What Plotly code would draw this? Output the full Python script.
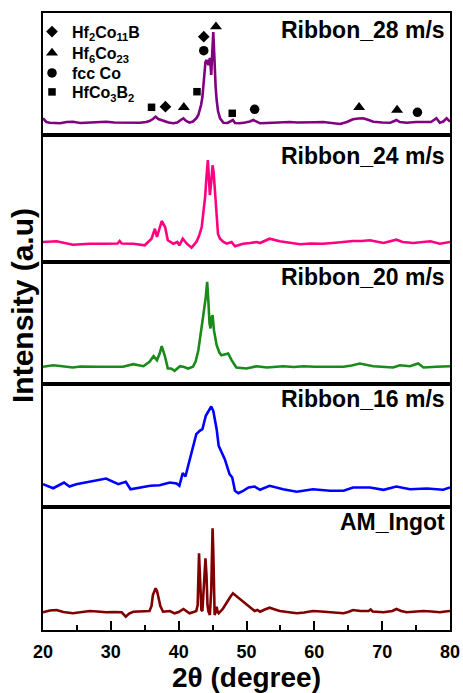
import plotly.graph_objects as go

# ---------------- data (2theta in degree, intensity in a.u.) ----------------
tt_28 = [20.0, 20.5, 21.0, 22.0, 22.5, 23.5, 24.4, 25.5, 26.9, 28.0, 29.3, 30.5, 31.8, 33.0, 34.3, 35.2,
         35.7, 36.2, 36.6, 37.0, 37.7, 38.5, 39.2, 39.8, 40.3, 40.7, 41.1, 41.6, 42.1, 42.6, 42.9, 43.1,
         43.3, 43.5, 43.65, 43.8, 43.95, 44.1, 44.25, 44.4, 44.5, 44.6, 44.7, 44.8, 44.9, 45.0, 45.1,
         45.2, 45.3, 45.45, 45.6, 45.8, 46.1, 46.6, 47.2, 47.7, 48.0, 48.3, 49.0, 49.8, 50.5, 51.0, 51.5,
         52.0, 53.0, 53.9, 55.0, 56.4, 57.5, 58.9, 60.0, 61.3, 62.5, 63.8, 64.8, 65.7, 66.5, 67.2, 68.0,
         68.7, 70.0, 71.2, 71.8, 72.1, 72.6, 73.6, 75.0, 76.1, 77.2, 78.0, 78.5, 79.0, 79.5, 80.0]
int_28 = [16.7, 13, 12.3, 12, 11.7, 13, 13.3, 12, 12.3, 12.8, 13.3, 12.5, 12.3, 12.8, 12.3, 13,
          14, 16, 18.3, 16, 14.3, 12.5, 11.7, 12.5, 15, 16.7, 14, 12.3, 13.5, 16.7, 20, 25,
          30, 38, 52, 65, 73, 75, 72, 70, 74, 77, 70, 60, 75, 95, 103,
          88, 68, 48, 35, 24, 16.7, 12.3, 12, 13.5, 15, 12, 11.7, 12.5, 13.5, 15, 13,
          11.7, 12, 12.3, 12.8, 13, 12.5, 12.3, 12.8, 13, 12, 11, 13, 15.7, 16.5, 16.7, 15,
          13.3, 12.5, 12.3, 14, 15, 13, 12.3, 13, 13.3, 13, 16.7, 12.3, 13.5, 16.7, 13.3]

tt_24 = [20.0, 22.0, 24.4, 26.9, 29.3, 31.0, 31.3, 31.6, 33.3, 35.0, 36.0, 36.5, 36.8, 37.5, 38.0,
         38.4, 39.2, 39.8, 40.1, 40.6, 41.2, 41.9, 42.6, 43.0, 43.4, 43.7, 43.9, 44.1, 44.3, 44.45,
         44.6, 44.8, 45.0, 45.15, 45.3, 45.45, 45.6, 45.8, 46.1, 46.6, 47.1, 47.8, 48.3, 49.5, 50.5,
         51.5, 52.0, 53.4, 54.9, 56.5, 57.9, 59.5, 61.3, 63.5, 65.7, 67.0, 68.2, 70.2, 72.1, 73.0,
         74.6, 77.1, 78.5, 80.0]
int_24 = [20, 20.7, 17.3, 18.3, 18.3, 18.5, 21, 18.5, 18.3, 16.7, 23.3, 33.3, 25, 41, 35,
          21.7, 18.3, 20, 16.7, 23.3, 18.3, 14.3, 20, 26, 35, 50, 65, 85, 102, 85,
          67, 80, 96.7, 90, 75, 55, 38, 28, 23.3, 20, 18.3, 20, 15.7, 18.3, 19,
          20, 19, 23.3, 20.7, 19, 17.7, 18.5, 18.3, 19.5, 21, 21, 21.7, 19, 22.3, 20,
          19, 20.7, 18.3, 20]

tt_20 = [20.0, 21.5, 22.5, 24.4, 25.5, 26.9, 28.0, 29.3, 30.5, 31.8, 33.3, 34.8, 35.7, 36.3, 36.8,
         37.2, 37.5, 38.0, 38.4, 38.9, 39.4, 40.2, 40.8, 41.4, 42.1, 42.5, 42.9, 43.3, 43.6, 44.0,
         44.2, 44.4, 44.55, 44.7, 44.85, 45.0, 45.2, 45.6, 46.0, 46.3, 46.8, 47.3, 47.8, 48.5, 50.0,
         51.5, 53.0, 55.4, 57.0, 58.4, 60.0, 61.3, 62.8, 64.3, 65.5, 66.7, 68.7, 70.0, 71.6, 72.6,
         74.1, 75.3, 76.1, 78.0, 80.0]
int_20 = [16.7, 18.3, 17.5, 16, 17, 17.3, 16.8, 16.7, 16.8, 16.7, 19.3, 17.3, 21.7, 27.3, 23.3,
          30, 37.3, 26.7, 15, 15, 12.7, 17.3, 16.5, 15, 16.7, 22, 33.3, 50, 66.7, 86.7,
          101.7, 80, 60, 55, 66, 68.3, 53.3, 38.3, 31, 28.3, 29, 30, 23.3, 16, 15,
          17.3, 16, 17.3, 16.5, 17.3, 16.8, 16.7, 17, 16.7, 18, 20, 17.3, 17, 16, 18.3,
          17.3, 20, 16, 16.7, 17.3]

tt_16 = [20.0, 21.5, 23.1, 23.9, 24.9, 26.9, 29.3, 31.1, 32.2, 32.9, 34.3, 35.8, 37.2, 38.7, 39.7,
         40.1, 40.6, 41.0, 41.4, 42.1, 42.6, 43.1, 43.5, 44.0, 44.4, 44.8, 45.1, 45.6, 45.9, 46.8,
         47.5, 47.9, 48.3, 48.8, 49.5, 50.3, 51.2, 52.0, 53.4, 55.4, 57.4, 59.8, 62.3, 64.3, 65.7,
         68.2, 70.2, 72.1, 74.1, 76.6, 79.0, 80.0]
int_16 = [22.3, 18.3, 24, 20, 22.3, 24.7, 28, 22.3, 24.7, 17.3, 19, 20.7, 21.3, 24, 23,
          20.7, 33.3, 30, 40.7, 60.7, 72.3, 75.7, 77.3, 90.7, 95.7, 100, 95.7, 77.3, 60.7, 47.3,
          32.3, 29, 15.7, 13.3, 15.7, 19, 20, 16.7, 20.7, 17.3, 14.7, 17.3, 15.7, 15.7, 19,
          19, 16.7, 20, 17.3, 18, 16.7, 19]

tt_ingot = [20.0, 21.0, 22.0, 23.0, 24.4, 25.5, 26.9, 28.0, 29.3, 30.5, 31.6, 32.2, 32.7, 33.3, 34.5,
            35.7, 36.0, 36.2, 36.6, 36.8, 37.0, 37.3, 37.7, 38.2, 38.7, 39.4, 40.0, 40.7, 41.2, 41.6,
            42.2, 42.6, 42.8, 42.9, 43.0, 43.1, 43.2, 43.35, 43.5, 43.75, 43.95, 44.1, 44.25, 44.4,
            44.6, 44.8, 44.9, 45.0, 45.1, 45.2, 45.3, 45.45, 45.6, 45.75, 45.9, 46.5, 47.1, 47.6,
            48.0, 48.5, 49.0, 49.8, 50.5, 51.2, 51.6, 52.0, 52.7, 53.4, 54.2, 54.9, 56.0, 57.4, 58.5,
            59.8, 61.0, 62.3, 63.3, 64.3, 65.0, 65.7, 66.8, 68.0, 68.3, 68.6, 70.2, 71.5, 72.1, 72.8,
            73.6, 75.0, 76.1, 77.3, 78.5, 79.3, 80.0]
int_ingot = [17.7, 19.5, 20, 18, 16.7, 18, 19, 18.5, 17.7, 18, 17.7, 13.3, 16.5, 18.3, 18.5,
             19, 24, 35, 41.7, 39, 33.3, 24, 18.3, 18.5, 19, 16.7, 18, 21, 18.5, 16.7,
             18, 19, 25, 55, 76.7, 60, 35, 20, 19, 45, 71.7, 55, 25, 18.3,
             15, 40, 80, 101.7, 80, 35, 15, 18, 23.3, 18, 16.7, 21, 28.3, 33,
             36.7, 34, 31.7, 27, 23.3, 19, 20, 18.3, 20.5, 22.3, 20.5, 19, 18, 16.7, 17.5,
             19, 18.5, 17.7, 17, 16.7, 18, 20, 19, 19, 20.5, 18.5, 17.7, 19, 21, 19,
             17.7, 18.5, 19, 18.5, 17.7, 18.5, 19]

series_names = ["Ribbon_28 m/s", "Ribbon_24 m/s", "Ribbon_20 m/s", "Ribbon_16 m/s", "AM_Ingot"]
series_x = [tt_28, tt_24, tt_20, tt_16, tt_ingot]
series_y = [int_28, int_24, int_20, int_16, int_ingot]
series_colors = ["#800080", "#FF0080", "#1A8A1A", "#0000FF", "#800000"]

# phase identification marks on the 28 m/s pattern (2theta, height)
phase_names = ["Hf<sub>2</sub>Co<sub>11</sub>B", "Hf<sub>6</sub>Co<sub>23</sub>", "fcc Co", "HfCo<sub>3</sub>B<sub>2</sub>"]
phase_symbols = ["diamond", "triangle-up", "circle", "square"]
phase_sizes = [9, 10.5, 9.5, 7.5]
phase_x = [[38.05, 43.7], [40.76, 45.5, 66.6, 72.2], [43.7, 51.2, 75.2], [36.0, 42.7, 47.9]]
phase_y = [[28.3, 98.3], [27.7, 108.3, 27.7, 25], [84.3, 25.7, 22.7], [27.7, 43.3, 21.7]]

x_ticks = [20, 30, 40, 50, 60, 70, 80]

# ---------------- figure ----------------
FONT = "Liberation Sans, Arial, sans-serif"
W, H = 463, 693
ML, MR, MT, MB = 43, 13, 13, 63
plot_h = H - MT - MB
bounds_px = [13, 135, 262, 383.5, 506.5, 630]
domains = []
for i in range(5):
    top = (H - MB - bounds_px[i]) / plot_h
    bot = (H - MB - bounds_px[i + 1]) / plot_h
    domains.append([max(0, bot), min(1, top)])
panel_h = [bounds_px[i + 1] - bounds_px[i] for i in range(5)]

fig = go.Figure()
layout = dict(
    width=W, height=H,
    margin=dict(l=ML, r=MR, t=MT, b=MB, autoexpand=False),
    paper_bgcolor="white", plot_bgcolor="white",
    font=dict(family=FONT, color="black"),
    showlegend=True,
)
legend_rows_px = [31.7, 53, 73, 92]
legend_keys = ["legend", "legend2", "legend3", "legend4"]
for k, key in enumerate(legend_keys):
    layout[key] = dict(xref="container", x=32 / W, y=(H - MB - legend_rows_px[k]) / plot_h,
                       xanchor="left", yanchor="middle",
                       bgcolor="rgba(0,0,0,0)", borderwidth=0, itemwidth=30,
                       font=dict(family=FONT, size=16, color="black", weight="bold"),
                       tracegroupgap=0, itemsizing="trace")

annotations = []
for i in range(5):
    ax = "" if i == 0 else str(i + 1)
    xa = "x" + ax
    ya = "y" + ax
    last = (i == 4)
    layout["xaxis" + ax] = dict(
        domain=[0, 1], anchor=ya, range=[20, 80],
        showline=True, mirror=True, linecolor="black", linewidth=2,
        showgrid=False, zeroline=False,
        tickvals=x_ticks if last else [],
        ticks="inside" if last else "", ticklen=9, tickwidth=2, tickcolor="black",
        showticklabels=last,
        tickfont=dict(family=FONT, size=18, color="black", weight="bold"),
        ticklabelstandoff=4,
    )
    if last:
        layout["xaxis" + ax]["minor"] = dict(ticks="inside", dtick=5, ticklen=5, tickwidth=2, tickcolor="black")
    layout["yaxis" + ax] = dict(
        domain=domains[i], anchor=xa, range=[0, panel_h[i]],
        showline=True, mirror=True, linecolor="black", linewidth=2,
        showgrid=False, zeroline=False, showticklabels=False, ticks="",
    )
    fig.add_trace(go.Scatter(x=series_x[i], y=series_y[i], mode="lines",
                             line=dict(color=series_colors[i], width=2.6),
                             xaxis=xa, yaxis=ya, showlegend=False, hoverinfo="skip"))
    offs = [17, 20.5, 15, 15, 15.5][i]
    annotations.append(dict(
        xref=xa + " domain", yref=ya + " domain", x=0.993, y=1 - offs / panel_h[i],
        xanchor="right", yanchor="middle", showarrow=False,
        text=series_names[i], font=dict(family=FONT, size=23, color="black", weight="bold")))

for k in range(4):
    fig.add_trace(go.Scatter(x=phase_x[k], y=phase_y[k], mode="markers", name=phase_names[k],
                             marker=dict(symbol=phase_symbols[k], size=phase_sizes[k], color="black"),
                             xaxis="x", yaxis="y", hoverinfo="skip", legend=legend_keys[k]))

annotations.append(dict(xref="paper", yref="paper", x=0.5, y=(H - MB - 677) / plot_h,
                        xanchor="center", yanchor="middle", showarrow=False,
                        text="2θ (degree)", font=dict(family=FONT, size=28, color="black", weight="bold")))
annotations.append(dict(xref="paper", yref="paper", x=(22 - ML) / (W - ML - MR), y=(H - MB - 306) / plot_h,
                        xanchor="center", yanchor="middle", showarrow=False, textangle=-90,
                        text="Intensity (a.u)", font=dict(family=FONT, size=30, color="black", weight="bold")))
layout["annotations"] = annotations
fig.update_layout(**layout)
fig.write_html("out.html")
